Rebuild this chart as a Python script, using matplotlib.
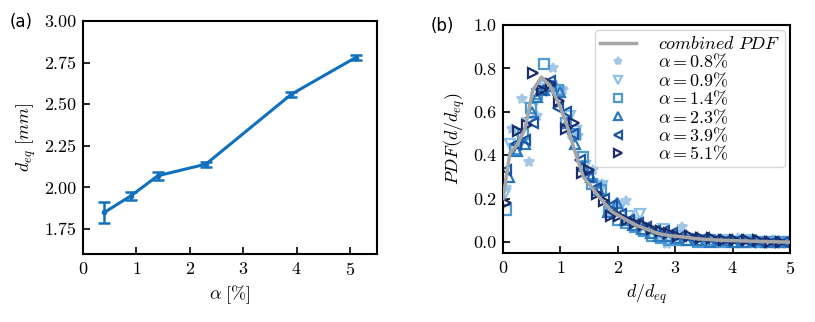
import matplotlib
matplotlib.use('Agg')
import matplotlib.pyplot as plt

plt.rcParams['font.family'] = 'serif'
plt.rcParams['font.serif'] = ['cmr10', 'DejaVu Serif']
plt.rcParams['mathtext.fontset'] = 'cm'
plt.rcParams['axes.formatter.use_mathtext'] = True
plt.rcParams['axes.unicode_minus'] = False

# (a) mean equivalent diameter vs gas fraction
alpha = [0.4, 0.9, 1.4, 2.3, 3.9, 5.1]
d_eq = [1.85, 1.95, 2.07, 2.14, 2.56, 2.78]
d_err = [0.065, 0.025, 0.025, 0.015, 0.015, 0.015]

# (b) combined PDF
comb_x = [0.0, 0.12, 0.25, 0.38, 0.52, 0.67, 0.82, 0.97, 1.1, 1.25, 1.4, 1.55,
          1.7, 1.9, 2.1, 2.3, 2.5, 2.7, 2.9, 3.1, 3.4, 3.7, 4.0, 4.5, 5.0]
comb_y = [0.20, 0.41, 0.45, 0.52, 0.70, 0.76, 0.72, 0.64, 0.55, 0.42, 0.30, 0.25,
          0.20, 0.14, 0.11, 0.08, 0.06, 0.04, 0.03, 0.025, 0.015, 0.01, 0.007, 0.003, 0.0]

# per-alpha PDFs
a08_x = [0.05, 0.15, 0.33, 0.45, 0.59, 0.73, 0.87, 1.05, 1.18, 1.3, 1.45, 1.57, 1.72,
         1.86, 2.0, 2.15, 2.3, 2.45, 2.6, 2.75, 2.85, 3.0, 3.11, 3.3, 3.5, 3.7, 3.9,
         4.1, 4.3, 4.5, 4.7, 4.9]
a08_y = [0.25, 0.52, 0.66, 0.37, 0.58, 0.72, 0.80, 0.70, 0.50, 0.49, 0.33, 0.33, 0.27,
         0.14, 0.18, 0.19, 0.10, 0.07, 0.05, 0.03, -0.01, 0.02, 0.07, 0.02, 0.01, 0.01,
         0.00, 0.02, 0.01, 0.00, 0.01, 0.00]
a09_x = [0.04, 0.12, 0.28, 0.43, 0.58, 0.72, 0.85, 1.0, 1.17, 1.28, 1.43, 1.58, 1.72,
         1.87, 2.02, 2.2, 2.39, 2.55, 2.65, 2.79, 2.95, 3.1, 3.3, 3.5, 3.7, 3.9, 4.1,
         4.3, 4.5, 4.7, 4.9]
a09_y = [0.22, 0.45, 0.50, 0.55, 0.65, 0.72, 0.71, 0.69, 0.58, 0.51, 0.35, 0.26, 0.26,
         0.15, 0.15, 0.12, 0.13, 0.05, 0.04, 0.06, 0.02, 0.03, 0.01, 0.01, 0.00, 0.01,
         0.00, 0.01, 0.00, 0.00, 0.00]
a14_x = [0.06, 0.21, 0.35, 0.49, 0.6, 0.71, 0.84, 0.96, 1.1, 1.25, 1.4, 1.55, 1.7,
         1.85, 2.0, 2.15, 2.3, 2.45, 2.6, 2.75, 2.9, 3.05, 3.2, 3.4, 3.6, 3.8, 4.0,
         4.2, 4.4, 4.6, 4.8, 5.0]
a14_y = [0.15, 0.43, 0.50, 0.62, 0.68, 0.82, 0.72, 0.70, 0.55, 0.50, 0.39, 0.27, 0.24,
         0.14, 0.10, 0.09, 0.07, 0.05, 0.03, 0.02, 0.01, 0.01, 0.01, 0.00, 0.01, 0.00,
         0.00, 0.00, 0.00, 0.00, 0.00, 0.00]
a23_x = [0.1, 0.24, 0.38, 0.5, 0.59, 0.72, 0.86, 0.99, 1.12, 1.26, 1.4, 1.54, 1.68,
         1.83, 1.98, 2.12, 2.27, 2.42, 2.57, 2.72, 2.87, 3.02, 3.2, 3.4, 3.6, 3.8,
         4.0, 4.2, 4.4, 4.6, 4.8, 5.0]
a23_y = [0.30, 0.42, 0.45, 0.60, 0.67, 0.70, 0.72, 0.69, 0.55, 0.45, 0.35, 0.30, 0.24,
         0.14, 0.18, 0.10, 0.08, 0.06, 0.04, 0.03, 0.03, 0.02, 0.01, 0.01, 0.00, 0.01,
         0.00, 0.00, 0.01, 0.00, 0.00, 0.00]
a39_x = [0.06, 0.22, 0.38, 0.52, 0.66, 0.82, 0.96, 1.1, 1.22, 1.34, 1.48, 1.62, 1.76,
         1.9, 2.05, 2.2, 2.35, 2.5, 2.65, 2.8, 2.95, 3.1, 3.3, 3.5, 3.7, 3.9, 4.1,
         4.3, 4.5, 4.7, 4.9]
a39_y = [0.33, 0.45, 0.47, 0.55, 0.70, 0.74, 0.62, 0.60, 0.50, 0.38, 0.30, 0.25, 0.20,
         0.17, 0.13, 0.10, 0.09, 0.07, 0.05, 0.05, 0.04, 0.03, 0.02, 0.02, 0.01, 0.01,
         0.01, 0.00, 0.00, 0.00, 0.00]
a51_x = [0.06, 0.26, 0.41, 0.53, 0.68, 0.84, 0.97, 1.1, 1.24, 1.37, 1.5, 1.63, 1.76,
         1.89, 2.02, 2.16, 2.3, 2.45, 2.6, 2.75, 2.9, 3.05, 3.25, 3.45, 3.65, 3.85,
         4.05, 4.25, 4.45, 4.65, 4.85]
a51_y = [0.18, 0.51, 0.54, 0.78, 0.70, 0.73, 0.65, 0.52, 0.55, 0.32, 0.33, 0.22, 0.19,
         0.12, 0.12, 0.10, 0.09, 0.08, 0.06, 0.05, 0.04, 0.03, 0.03, 0.02, 0.02, 0.01,
         0.01, 0.01, 0.01, 0.00, 0.00]

series = [
    (a08_x, a08_y, r'$\alpha = 0.8\%$', '*', '#a3c8e6', True),
    (a09_x, a09_y, r'$\alpha = 0.9\%$', 'v', '#8cc2ea', False),
    (a14_x, a14_y, r'$\alpha = 1.4\%$', 's', '#4d9ad3', False),
    (a23_x, a23_y, r'$\alpha = 2.3\%$', '^', '#2a78c0', False),
    (a39_x, a39_y, r'$\alpha = 3.9\%$', '<', '#1c55a3', False),
    (a51_x, a51_y, r'$\alpha = 5.1\%$', '>', '#1b2d6c', False),
]

fig = plt.figure(figsize=(8.15, 3.22), dpi=100)
ax1 = fig.add_axes([0.1018, 0.2112, 0.3607, 0.7236])
ax2 = fig.add_axes([0.6172, 0.2143, 0.3521, 0.7081])

ax1.errorbar(alpha, d_eq, yerr=d_err, color='#1070bd', lw=2.2, marker='o',
             ms=3, capsize=4.5, capthick=1.8, elinewidth=1.8)
ax1.set_xlim(0, 5.5)
ax1.set_ylim(1.6, 3.0)
ax1.set_xticks([0, 1, 2, 3, 4, 5])
ax1.set_yticks([1.75, 2.0, 2.25, 2.5, 2.75, 3.0])
ax1.set_yticklabels(['1.75', '2.00', '2.25', '2.50', '2.75', '3.00'])
ax1.set_xlabel(r'$\alpha\ [\%]$', fontsize=13)
ax1.set_ylabel(r'$d_{eq}\ [mm]$', fontsize=13)

ax2.plot(comb_x, comb_y, color='#a6a6a6', lw=2.5, label=r'$combined\ PDF$', zorder=3)
for x, y, lab, m, c, filled in series:
    ax2.plot(x, y, ls='none', marker=m, ms=6.5 if m != '*' else 7.5, mew=1.6,
             color=c, mfc=c if filled else 'none', label=lab)
ax2.set_xlim(0, 5)
ax2.set_ylim(-0.05, 1.0)
ax2.set_xticks([0, 1, 2, 3, 4, 5])
ax2.set_yticks([0.0, 0.2, 0.4, 0.6, 0.8, 1.0])
ax2.set_yticklabels(['0.0', '0.2', '0.4', '0.6', '0.8', '1.0'])
ax2.set_xlabel(r'$d/d_{eq}$', fontsize=13)
ax2.set_ylabel(r'$PDF(d/d_{eq})$', fontsize=13)
leg = ax2.legend(loc='upper right', fontsize=13, handlelength=2.0, markerscale=0.8,
                 labelspacing=0.0, borderpad=0.25, handletextpad=1.2,
                 borderaxespad=0.3, framealpha=0.85, edgecolor='#d0d0d0')

for ax in (ax1, ax2):
    ax.tick_params(direction='in', labelsize=13, length=5, width=1.2, pad=5)
    for sp in ax.spines.values():
        sp.set_linewidth(1.5)

fig.text(0.012, 0.915, '(a)', fontsize=12, family='DejaVu Sans')
fig.text(0.528, 0.905, '(b)', fontsize=12, family='DejaVu Sans')

fig.savefig('out.png', dpi=100)
